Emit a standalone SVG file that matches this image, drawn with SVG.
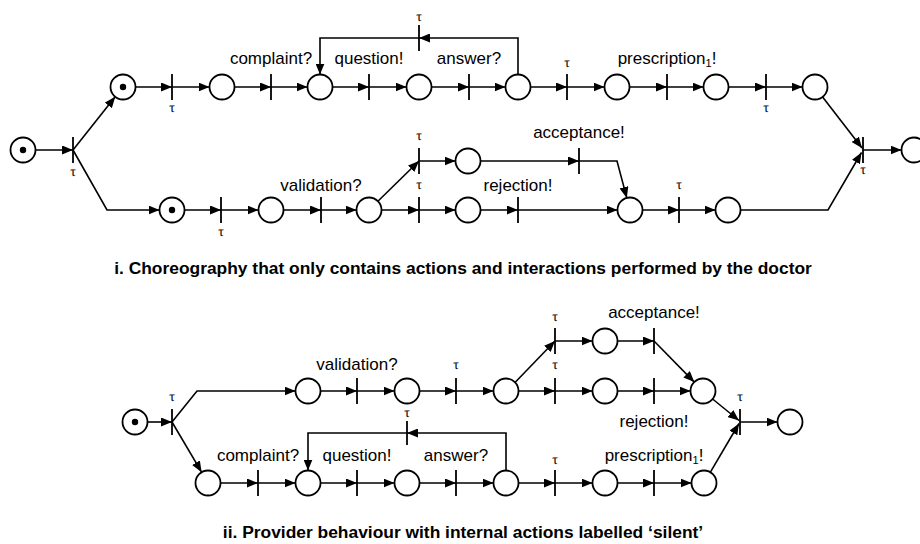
<svg xmlns="http://www.w3.org/2000/svg" width="920" height="544" viewBox="0 0 920 544">
  <style>
    .pl { fill: #fff; stroke: #000; stroke-width: 1.8; }
    .tk { fill: #000; }
    .tr { stroke: #000; stroke-width: 1.8; }
    .ed { fill: none; stroke: #000; stroke-width: 1.6; }
    .lb { font-family: "Liberation Sans", Arial, sans-serif; font-size: 17px; text-anchor: middle; fill: #000; }
    .tau { font-family: "Liberation Serif", "Times New Roman", serif; font-size: 14px; text-anchor: middle; fill: #000; text-rendering: geometricPrecision; }
    .cap { font-family: "Liberation Sans", Arial, sans-serif; font-size: 17.4px; font-weight: bold; text-anchor: middle; fill: #000; }
  </style>
  <defs>
    <marker id="arr" markerUnits="userSpaceOnUse" markerWidth="11" markerHeight="9" refX="11" refY="4.5" orient="auto">
      <path d="M0,0 L11,4.5 L0,9 z" fill="#000"/>
    </marker>
  </defs>
  <rect width="920" height="544" fill="#fff"/>

  <!-- ===== Net i: choreography ===== -->
  <g id="net1-connectors" class="ed" marker-end="url(#arr)">
    <line x1="35.5" y1="150" x2="73" y2="150"/>
    <line x1="73" y1="150" x2="115.2" y2="96.8"/>
    <polyline points="73,150 107,210 159.5,210"/>
    <!-- upper row -->
    <line x1="135.5" y1="87" x2="172" y2="87"/>
    <line x1="172" y1="87" x2="209.5" y2="87"/>
    <line x1="234.5" y1="87" x2="271" y2="87"/>
    <line x1="271" y1="87" x2="307.5" y2="87"/>
    <line x1="332.5" y1="87" x2="369" y2="87"/>
    <line x1="369" y1="87" x2="406.5" y2="87"/>
    <line x1="431.5" y1="87" x2="469" y2="87"/>
    <line x1="469" y1="87" x2="505.5" y2="87"/>
    <line x1="530.5" y1="87" x2="567" y2="87"/>
    <line x1="567" y1="87" x2="604.5" y2="87"/>
    <line x1="629.5" y1="87" x2="667" y2="87"/>
    <line x1="667" y1="87" x2="703.5" y2="87"/>
    <line x1="728.5" y1="87" x2="766" y2="87"/>
    <line x1="766" y1="87" x2="802.5" y2="87"/>
    <!-- repeat loop -->
    <polyline points="518,74.5 518,38 419,38"/>
    <polyline points="419,38 320,38 320,74.5"/>
    <!-- join -->
    <line x1="822.6" y1="96.9" x2="862" y2="148"/>
    <line x1="863" y1="150" x2="901.5" y2="150"/>
    <!-- lower row -->
    <line x1="184.5" y1="210" x2="221" y2="210"/>
    <line x1="221" y1="210" x2="258.5" y2="210"/>
    <line x1="283.5" y1="210" x2="321" y2="210"/>
    <line x1="321" y1="210" x2="356.5" y2="210"/>
    <line x1="377.9" y1="201.3" x2="419" y2="161"/>
    <line x1="381.5" y1="210" x2="419" y2="210"/>
    <line x1="419" y1="161" x2="455.5" y2="161"/>
    <line x1="419" y1="210" x2="455.5" y2="210"/>
    <line x1="480.5" y1="161" x2="579" y2="161"/>
    <line x1="480.5" y1="210" x2="518" y2="210"/>
    <polyline points="579,161 617,161 626.8,197.9"/>
    <line x1="518" y1="210" x2="617.5" y2="210"/>
    <line x1="642.5" y1="210" x2="679" y2="210"/>
    <line x1="679" y1="210" x2="715.5" y2="210"/>
    <polyline points="740.5,210 828,210 861.5,152.5"/>
  </g>

  <g id="net1-places">
    <g id="p1-start"><circle class="pl" cx="23" cy="150" r="12.5"/><circle class="tk" cx="23" cy="150" r="3.2"/></g>
    <g id="p1-a0"><circle class="pl" cx="123" cy="87" r="12.5"/><circle class="tk" cx="123" cy="87" r="3.2"/></g>
    <g id="p1-a1"><circle class="pl" cx="222" cy="87" r="12.5"/></g>
    <g id="p1-a2"><circle class="pl" cx="320" cy="87" r="12.5"/></g>
    <g id="p1-a3"><circle class="pl" cx="419" cy="87" r="12.5"/></g>
    <g id="p1-a4"><circle class="pl" cx="518" cy="87" r="12.5"/></g>
    <g id="p1-a5"><circle class="pl" cx="617" cy="87" r="12.5"/></g>
    <g id="p1-a6"><circle class="pl" cx="716" cy="87" r="12.5"/></g>
    <g id="p1-a7"><circle class="pl" cx="815" cy="87" r="12.5"/></g>
    <g id="p1-b0"><circle class="pl" cx="172" cy="210" r="12.5"/><circle class="tk" cx="172" cy="210" r="3.2"/></g>
    <g id="p1-b1"><circle class="pl" cx="271" cy="210" r="12.5"/></g>
    <g id="p1-b2"><circle class="pl" cx="369" cy="210" r="12.5"/></g>
    <g id="p1-b3"><circle class="pl" cx="468" cy="161" r="12.5"/></g>
    <g id="p1-b4"><circle class="pl" cx="468" cy="210" r="12.5"/></g>
    <g id="p1-b5"><circle class="pl" cx="630" cy="210" r="12.5"/></g>
    <g id="p1-b6"><circle class="pl" cx="728" cy="210" r="12.5"/></g>
    <g id="p1-end"><circle class="pl" cx="914" cy="150" r="12.5"/></g>
  </g>

  <g id="net1-transitions">
    <g id="t1-split"><line class="tr" x1="73" y1="137" x2="73" y2="163"/><text class="tau" x="73" y="176">τ</text></g>
    <g id="t1-a0"><line class="tr" x1="172" y1="74" x2="172" y2="100"/><text class="tau" x="172" y="112">τ</text></g>
    <g id="t1-complaint"><line class="tr" x1="271" y1="74" x2="271" y2="100"/><text class="lb" x="271" y="64">complaint?</text></g>
    <g id="t1-question"><line class="tr" x1="369" y1="74" x2="369" y2="100"/><text class="lb" x="369" y="64">question!</text></g>
    <g id="t1-answer"><line class="tr" x1="469" y1="74" x2="469" y2="100"/><text class="lb" x="469" y="64">answer?</text></g>
    <g id="t1-loop"><line class="tr" x1="419" y1="25" x2="419" y2="51"/><text class="tau" x="419" y="21">τ</text></g>
    <g id="t1-a4"><line class="tr" x1="567" y1="74" x2="567" y2="100"/><text class="tau" x="567" y="67">τ</text></g>
    <g id="t1-prescription"><line class="tr" x1="667" y1="74" x2="667" y2="100"/><text class="lb" x="667" y="64">prescription<tspan font-size="11" dy="3">1</tspan><tspan dy="-3">!</tspan></text></g>
    <g id="t1-a6"><line class="tr" x1="766" y1="74" x2="766" y2="100"/><text class="tau" x="766" y="112">τ</text></g>
    <g id="t1-join"><line class="tr" x1="863" y1="137" x2="863" y2="163"/><text class="tau" x="863" y="174">τ</text></g>
    <g id="t1-b0"><line class="tr" x1="221" y1="197" x2="221" y2="223"/><text class="tau" x="221" y="236">τ</text></g>
    <g id="t1-validation"><line class="tr" x1="321" y1="197" x2="321" y2="223"/><text class="lb" x="321" y="191">validation?</text></g>
    <g id="t1-accept-tau"><line class="tr" x1="419" y1="148" x2="419" y2="174"/><text class="tau" x="419" y="140">τ</text></g>
    <g id="t1-reject-tau"><line class="tr" x1="419" y1="197" x2="419" y2="223"/><text class="tau" x="419" y="189">τ</text></g>
    <g id="t1-acceptance"><line class="tr" x1="579" y1="148" x2="579" y2="174"/><text class="lb" x="579" y="138">acceptance!</text></g>
    <g id="t1-rejection"><line class="tr" x1="518" y1="197" x2="518" y2="223"/><text class="lb" x="518" y="191">rejection!</text></g>
    <g id="t1-b5"><line class="tr" x1="679" y1="197" x2="679" y2="223"/><text class="tau" x="679" y="189">τ</text></g>
  </g>

  <text class="cap" x="463" y="274">i. Choreography that only contains actions and interactions performed by the doctor</text>

  <!-- ===== Net ii: provider behaviour ===== -->
  <g id="net2-connectors" class="ed" marker-end="url(#arr)">
    <line x1="147.5" y1="422" x2="172" y2="422"/>
    <polyline points="172,422 197,391 295.5,391"/>
    <line x1="172" y1="422" x2="201.6" y2="472.2"/>
    <!-- upper row -->
    <line x1="320.5" y1="391" x2="357" y2="391"/>
    <line x1="357" y1="391" x2="394.5" y2="391"/>
    <line x1="419.5" y1="391" x2="456" y2="391"/>
    <line x1="456" y1="391" x2="493.5" y2="391"/>
    <line x1="515" y1="382.5" x2="555" y2="341"/>
    <line x1="518.5" y1="391" x2="555" y2="391"/>
    <line x1="555" y1="341" x2="592.5" y2="341"/>
    <line x1="555" y1="391" x2="592.5" y2="391"/>
    <line x1="617.5" y1="341" x2="654" y2="341"/>
    <line x1="617.5" y1="391" x2="654" y2="391"/>
    <line x1="654" y1="341" x2="694.3" y2="382.1"/>
    <line x1="654" y1="391" x2="690.5" y2="391"/>
    <!-- lower row -->
    <line x1="220.5" y1="483" x2="258" y2="483"/>
    <line x1="258" y1="483" x2="295.5" y2="483"/>
    <line x1="320.5" y1="483" x2="357" y2="483"/>
    <line x1="357" y1="483" x2="394.5" y2="483"/>
    <line x1="419.5" y1="483" x2="456" y2="483"/>
    <line x1="456" y1="483" x2="493.5" y2="483"/>
    <line x1="518.5" y1="483" x2="555" y2="483"/>
    <line x1="555" y1="483" x2="592.5" y2="483"/>
    <line x1="617.5" y1="483" x2="654" y2="483"/>
    <line x1="654" y1="483" x2="691.5" y2="483"/>
    <!-- repeat loop -->
    <polyline points="506,470.5 506,433 407,433"/>
    <polyline points="407,433 308,433 308,470.5"/>
    <!-- join -->
    <line x1="712.6" y1="399" x2="739" y2="420.5"/>
    <line x1="710.4" y1="472.2" x2="739" y2="423.5"/>
    <line x1="740" y1="422" x2="777.5" y2="422"/>
  </g>

  <g id="net2-places">
    <g id="p2-start"><circle class="pl" cx="135" cy="422" r="12.5"/><circle class="tk" cx="135" cy="422" r="3.2"/></g>
    <g id="p2-a0"><circle class="pl" cx="308" cy="391" r="12.5"/></g>
    <g id="p2-a1"><circle class="pl" cx="407" cy="391" r="12.5"/></g>
    <g id="p2-a2"><circle class="pl" cx="506" cy="391" r="12.5"/></g>
    <g id="p2-a3"><circle class="pl" cx="605" cy="341" r="12.5"/></g>
    <g id="p2-a4"><circle class="pl" cx="605" cy="391" r="12.5"/></g>
    <g id="p2-a5"><circle class="pl" cx="703" cy="391" r="12.5"/></g>
    <g id="p2-b0"><circle class="pl" cx="208" cy="483" r="12.5"/></g>
    <g id="p2-b1"><circle class="pl" cx="308" cy="483" r="12.5"/></g>
    <g id="p2-b2"><circle class="pl" cx="407" cy="483" r="12.5"/></g>
    <g id="p2-b3"><circle class="pl" cx="506" cy="483" r="12.5"/></g>
    <g id="p2-b4"><circle class="pl" cx="605" cy="483" r="12.5"/></g>
    <g id="p2-b5"><circle class="pl" cx="704" cy="483" r="12.5"/></g>
    <g id="p2-end"><circle class="pl" cx="790" cy="422" r="12.5"/></g>
  </g>

  <g id="net2-transitions">
    <g id="t2-split"><line class="tr" x1="172" y1="409" x2="172" y2="435"/><text class="tau" x="172" y="401">τ</text></g>
    <g id="t2-validation"><line class="tr" x1="357" y1="378" x2="357" y2="404"/><text class="lb" x="357" y="370">validation?</text></g>
    <g id="t2-a1"><line class="tr" x1="456" y1="378" x2="456" y2="404"/><text class="tau" x="456" y="369">τ</text></g>
    <g id="t2-accept-tau"><line class="tr" x1="555" y1="328" x2="555" y2="354"/><text class="tau" x="555" y="321">τ</text></g>
    <g id="t2-reject-tau"><line class="tr" x1="555" y1="378" x2="555" y2="404"/><text class="tau" x="555" y="369">τ</text></g>
    <g id="t2-acceptance"><line class="tr" x1="654" y1="328" x2="654" y2="354"/><text class="lb" x="654" y="318">acceptance!</text></g>
    <g id="t2-rejection"><line class="tr" x1="654" y1="378" x2="654" y2="404"/><text class="lb" x="654" y="427">rejection!</text></g>
    <g id="t2-join"><line class="tr" x1="740" y1="409" x2="740" y2="435"/><text class="tau" x="740" y="401">τ</text></g>
    <g id="t2-complaint"><line class="tr" x1="258" y1="470" x2="258" y2="496"/><text class="lb" x="258" y="461">complaint?</text></g>
    <g id="t2-question"><line class="tr" x1="357" y1="470" x2="357" y2="496"/><text class="lb" x="357" y="461">question!</text></g>
    <g id="t2-answer"><line class="tr" x1="456" y1="470" x2="456" y2="496"/><text class="lb" x="456" y="461">answer?</text></g>
    <g id="t2-loop"><line class="tr" x1="407" y1="421" x2="407" y2="445"/><text class="tau" x="407" y="417">τ</text></g>
    <g id="t2-b3"><line class="tr" x1="555" y1="470" x2="555" y2="496"/><text class="tau" x="555" y="464">τ</text></g>
    <g id="t2-prescription"><line class="tr" x1="654" y1="470" x2="654" y2="496"/><text class="lb" x="654" y="461">prescription<tspan font-size="11" dy="3">1</tspan><tspan dy="-3">!</tspan></text></g>
  </g>

  <text class="cap" x="463" y="538">ii. Provider behaviour with internal actions labelled ‘silent’</text>
</svg>
